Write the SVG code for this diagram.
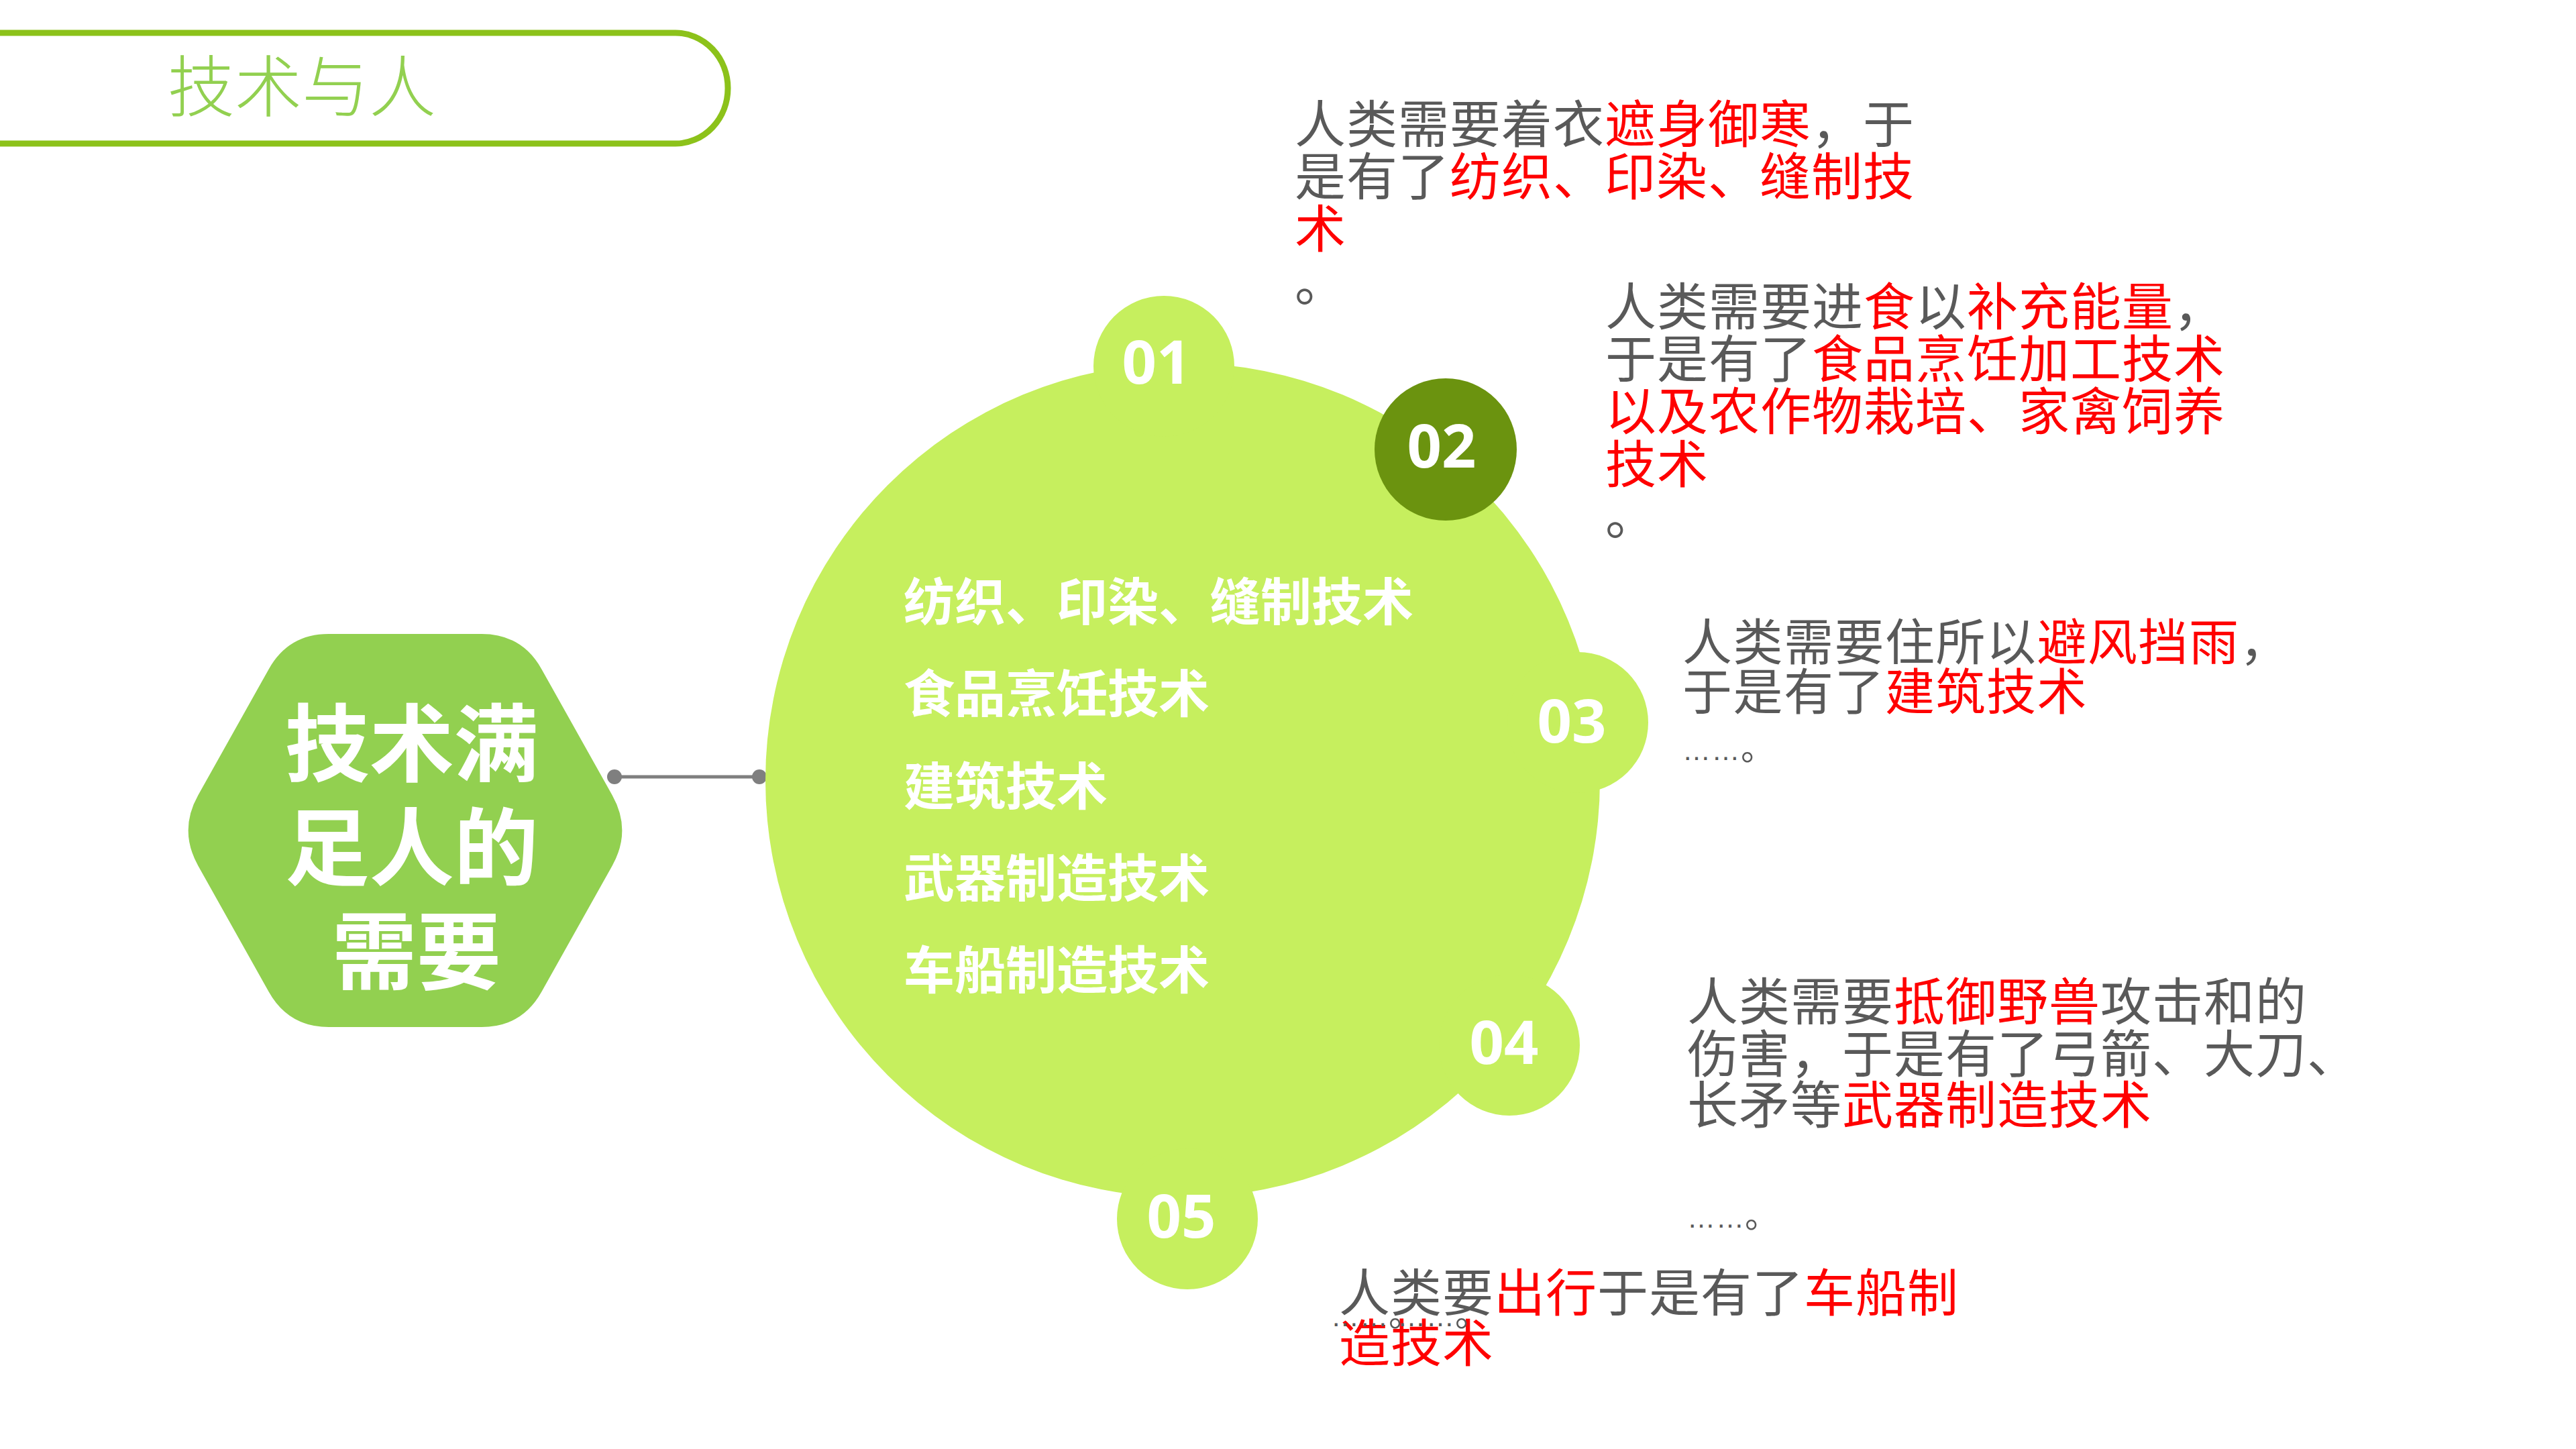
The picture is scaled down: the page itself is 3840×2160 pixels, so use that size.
<svg xmlns="http://www.w3.org/2000/svg" width="3840" height="2160" viewBox="0 0 3840 2160">
<style>
.t{font-family:"Noto Sans CJK SC","Noto Sans",sans-serif;font-size:76px;letter-spacing:1px}
.g{fill:#595959}
.r{fill:#FF0000}
.num{font-family:"Open Sans","Noto Sans",sans-serif;font-weight:700;font-size:90px;fill:#FFFFFF;text-anchor:middle}
.lst{font-family:"Noto Sans CJK SC",sans-serif;font-weight:700;font-size:76px;fill:#FFFFFF}
.dots{font-family:"Liberation Sans",sans-serif;font-size:42px}
.sm{font-family:"Noto Sans CJK SC",sans-serif;font-size:50px}
.bump{fill:#C6EF5E}
</style>
<rect width="3840" height="2160" fill="#FFFFFF"/>
<g id="title">
<path d="M -20 49 H 1007 A 78 82.5 0 0 1 1007 214 H -20" fill="none" stroke="#8CC21A" stroke-width="9"/>
<text x="250" y="166" font-family="Noto Sans CJK SC,sans-serif" font-weight="300" font-size="100" fill="#92D050">技术与人</text>
</g>
<g id="connectors">
<line x1="916" y1="1158" x2="1132" y2="1158" stroke="#7F7F7F" stroke-width="5"/>
<circle cx="916" cy="1158" r="11" fill="#7F7F7F"/>
<circle cx="1132" cy="1158" r="11" fill="#7F7F7F"/>
</g>
<g id="hexagon">
<path d="M 295.3 1185.6 L 400.7 997.4 Q 430 945 490 945 L 718 945 Q 778 945 807.3 997.4 L 912.7 1185.6 Q 942 1238 912.7 1290.4 L 807.3 1478.6 Q 778 1531 718 1531 L 490 1531 Q 430 1531 400.7 1478.6 L 295.3 1290.4 Q 266 1238 295.3 1185.6 Z" fill="#92D050"/>
<text font-family="Noto Sans CJK SC,sans-serif" font-weight="700" font-size="126" fill="#FFFFFF" text-anchor="middle">
<tspan x="628" y="1155">技术满</tspan>
<tspan x="628" y="1310">足人的</tspan>
<tspan x="621" y="1465">需要</tspan>
</text>
</g>
<g id="wheel">
<circle cx="1763" cy="1163" r="622" fill="#C6EF5E"/>
<circle class="bump" cx="1735" cy="546" r="105"/>
<circle class="bump" cx="2352" cy="1077" r="105"/>
<circle class="bump" cx="2250" cy="1558" r="105"/>
<circle class="bump" cx="1770" cy="1817" r="105"/>
<circle cx="2155" cy="670" r="106" fill="#6B930F"/>
<text class="num" x="1724" y="572">01</text>
<text class="num" x="2149" y="697">02</text>
<text class="num" x="2343" y="1107">03</text>
<text class="num" x="2242" y="1586">04</text>
<text class="num" x="1761" y="1845">05</text>
<text class="lst" x="1347" y="925">纺织、印染、缝制技术</text>
<text class="lst" x="1347" y="1062">食品烹饪技术</text>
<text class="lst" x="1347" y="1200">建筑技术</text>
<text class="lst" x="1347" y="1337">武器制造技术</text>
<text class="lst" x="1347" y="1474">车船制造技术</text>
</g>
<g id="text1" class="t">
<text x="1930" y="213"><tspan class="g">人类需要着衣</tspan><tspan class="r">遮身御寒</tspan><tspan class="g">，于</tspan></text>
<text x="1930" y="291"><tspan class="g">是有了</tspan><tspan class="r">纺织、印染、缝制技</tspan></text>
<text x="1930" y="369" class="r">术</text>
<text x="1930" y="449" class="g">。</text>
</g>
<g id="text2" class="t">
<text x="2393" y="485"><tspan class="g">人类需要进</tspan><tspan class="r">食</tspan><tspan class="g">以</tspan><tspan class="r">补充能量</tspan><tspan class="g">，</tspan></text>
<text x="2393" y="563"><tspan class="g">于是有了</tspan><tspan class="r">食品烹饪加工技术</tspan></text>
<text x="2393" y="641" class="r">以及农作物栽培、家禽饲养</text>
<text x="2393" y="720" class="r">技术</text>
<text x="2393" y="797" class="g">。</text>
</g>
<g id="text3" class="t" style="font-size:74px;letter-spacing:1.5px">
<text x="2508" y="984"><tspan class="g">人类需要住所以</tspan><tspan class="r">避风挡雨</tspan><tspan class="g">，</tspan></text>
<text x="2508" y="1058"><tspan class="g">于是有了</tspan><tspan class="r">建筑技术</tspan></text>
<text x="2508" y="1133" class="g"><tspan class="dots">……</tspan><tspan class="sm">。</tspan></text>
</g>
<g id="text4" class="t">
<text x="2515" y="1521"><tspan class="g">人类需要</tspan><tspan class="r">抵御野兽</tspan><tspan class="g">攻击和的</tspan></text>
<text x="2515" y="1599" class="g">伤害，于是有了弓箭、大刀、</text>
<text x="2515" y="1675"><tspan class="g">长矛等</tspan><tspan class="r">武器制造技术</tspan></text>
<text x="2515" y="1830" class="g"><tspan class="dots">……</tspan><tspan class="sm">。</tspan></text>
</g>
<g id="text5" class="t">
<text x="1996" y="1955"><tspan class="g">人类要</tspan><tspan class="r">出行</tspan><tspan class="g">于是有了</tspan><tspan class="r">车船制</tspan></text>
<text x="1996" y="2030" class="r">造技术</text>
<text x="1984" y="1977" class="g"><tspan class="dots">……</tspan><tspan class="sm" font-size="42">。</tspan></text>
<text x="2083" y="1977" class="g"><tspan class="dots">……</tspan><tspan class="sm" font-size="42">。</tspan></text>
</g>
</svg>
